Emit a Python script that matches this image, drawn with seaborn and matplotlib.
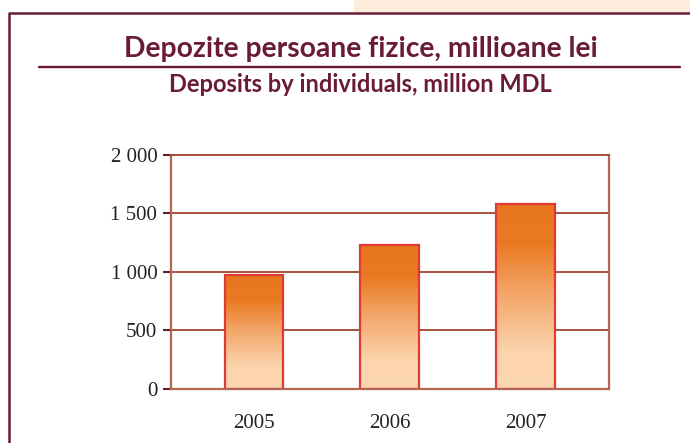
import numpy as np
import matplotlib
matplotlib.use("Agg")
import matplotlib.pyplot as plt
import seaborn as sns
from matplotlib.colors import LinearSegmentedColormap
from matplotlib.lines import Line2D
from matplotlib.patches import Rectangle

# data
years = ["2005", "2006", "2007"]
deposits = [970, 1228, 1578]
yticks = [0, 500, 1000, 1500, 2000]
ytick_labels = ["0", "500", "1 000", "1 500", "2 000"]
title_ro = "Depozite persoane fizice, millioane lei"
title_en = "Deposits by individuals, million MDL"

maroon = "#6a1b36"
grid_col = "#a4523c"
spine_col = "#b4654f"
edge_red = "#e03a34"

sns.set_style("white")
plt.rcParams["font.family"] = ["Liberation Serif", "DejaVu Serif"]

W, H = 690, 443
fig = plt.figure(figsize=(W / 100, H / 100), dpi=100)
ax = fig.add_axes([170.5 / W, 1 - 389 / H, (609 - 170.5) / W, (389 - 154.5) / H])

sns.barplot(x=years, y=deposits, ax=ax, width=0.434, color="#e8761f",
            saturation=1, zorder=2)

ax.set_axisbelow(True)
ax.set_ylim(0, 2000)
ax.set_xlim(-0.615, 2.615)
ax.set_yticks(yticks)
ax.set_yticklabels(ytick_labels)
ax.yaxis.grid(True, color=grid_col, lw=1.4)
ax.xaxis.grid(False)
ax.set_xlabel("")
ax.set_ylabel("")
for s in ["left", "right", "bottom", "top"]:
    ax.spines[s].set_visible(True)
    ax.spines[s].set_color(spine_col)
    ax.spines[s].set_linewidth(1.6)
ax.spines["top"].set_color(grid_col)
ax.spines["top"].set_linewidth(1.4)

ax.tick_params(axis="y", direction="out", length=6, width=1.5, color=maroon,
               labelsize=15, pad=3.5, labelcolor="#222222", left=True)
ax.tick_params(axis="x", length=0, labelsize=15, pad=18, labelcolor="#222222")

# gradient fill inside each bar: peach at the bottom, orange at the top
grad = LinearSegmentedColormap.from_list(
    "dep", [(0.0, "#fcd7b2"), (0.2, "#fcd4ad"), (0.5, "#f3a86c"),
            (0.78, "#ea7a22"), (1.0, "#e8761f")])
g = np.linspace(0, 1, 256).reshape(-1, 1)
for p in ax.patches:
    x0, y0 = p.get_x(), p.get_y()
    w, h = p.get_width(), p.get_height()
    im = ax.imshow(g, cmap=grad, origin="lower", aspect="auto",
                   extent=[x0, x0 + w, y0, y0 + h], zorder=1.8)
    im.set_clip_path(p)
    p.set_facecolor("none")
    p.set_edgecolor(edge_red)
    p.set_linewidth(1.6)
    p.set_zorder(2.2)
ax.set_xlim(-0.615, 2.615)
ax.set_ylim(0, 2000)

# titles and frame
fig.text(360.5 / W, 1 - 57 / H, title_ro, ha="center", va="baseline",
         fontsize=20.3, fontweight="bold", color=maroon, family=["Lato", "DejaVu Sans"])
fig.text(360 / W, 1 - 92 / H, title_en, ha="center", va="baseline",
         fontsize=17, fontweight="bold", color=maroon, family=["Lato", "DejaVu Sans"])
fig.add_artist(Line2D([39 / W, 680 / W], [1 - 67 / H, 1 - 67 / H], color=maroon, lw=1.7))

fig.add_artist(Rectangle((354 / W, 1 - 12 / H), 1 - 354 / W, 12 / H,
                         facecolor="#fdecdc", edgecolor="none"))
fig.add_artist(Line2D([9 / W, 9 / W, 1], [0, 1 - 12.7 / H, 1 - 12.7 / H],
                      color=maroon, lw=1.8))

fig.savefig("out.png", dpi=100)
